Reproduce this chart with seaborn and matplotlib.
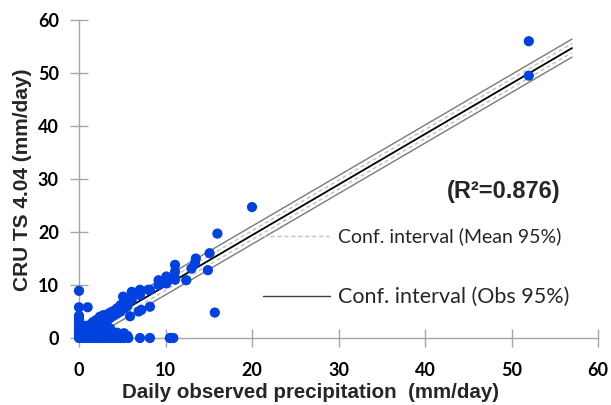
import numpy as np
import pandas as pd
import matplotlib
matplotlib.use("Agg")
import matplotlib.pyplot as plt
import seaborn as sns
from matplotlib.lines import Line2D

# ---- data ----
obs_precip = [
    52.0, 52.0, 20.0, 16.0, 15.1, 15.7, 13.5, 13.4, 13.0, 14.9,
    11.1, 11.1, 11.1, 11.1, 12.4, 10.1, 10.1, 9.2, 9.2, 8.2,
    8.0, 7.05, 7.05, 6.1, 6.1, 6.1, 5.1, 8.2, 6.9, 5.9,
    7.2, 4.2, 0.0, 0.0, 1.0, 5.3,
    5.7, 7.05, 8.2, 10.5, 10.9,
    0.0, 0.0, 0.0, 0.0, 0.0, 0.0, 0.0, 0.0,
    0.4, 0.4, 0.4, 0.4,
    0.8, 0.8, 0.8, 0.8,
    1.2, 1.2, 1.2, 1.2,
    1.6, 1.6, 1.6, 1.6, 1.6,
    2.0, 2.0, 2.0, 2.0, 2.0,
    2.4, 2.4, 2.4, 2.4, 2.4, 2.4,
    2.8, 2.8, 2.8, 2.8, 2.8, 2.8,
    3.2, 3.2, 3.2, 3.2, 3.2, 3.2,
    3.6, 3.6, 3.6, 3.6, 3.6,
    4.0, 4.0, 4.0, 4.0,
    4.4, 4.4, 4.4, 4.4,
    4.8, 4.8, 4.8, 4.8,
    5.2, 5.2, 5.2, 5.2,
    5.6, 5.6,
]
cru_precip = [
    56.0, 49.5, 24.7, 19.7, 16.0, 4.8, 15.0, 14.1, 13.1, 12.8,
    13.8, 12.5, 11.3, 11.0, 10.9, 11.6, 10.3, 10.9, 10.0, 9.1,
    9.1, 9.1, 8.1, 8.7, 8.0, 7.2, 7.8, 5.9, 5.0, 4.1,
    5.3, 5.0, 8.9, 5.8, 5.8, 5.8,
    0.0, 0.0, 0.0, 0.0, 0.0,
    0.0, 0.6, 1.2, 1.8, 2.4, 3.0, 3.6, 4.2,
    0.0, 0.7, 1.4, 2.0,
    0.0, 0.8, 1.6, 2.3,
    0.0, 0.7, 1.4, 2.4,
    0.0, 0.8, 1.6, 2.4, 3.0,
    0.0, 0.9, 1.8, 2.7, 3.4,
    0.0, 0.8, 1.6, 2.5, 3.4, 4.0,
    0.0, 0.9, 1.8, 2.7, 3.6, 4.3,
    0.0, 0.8, 1.6, 2.5, 3.4, 4.4,
    0.0, 0.9, 1.8, 3.8, 4.8,
    0.0, 0.6, 4.2, 5.1,
    0.0, 1.0, 4.6, 5.6,
    0.0, 0.6, 5.0, 6.2,
    0.0, 0.9, 5.6, 6.8,
    0.4, 6.0,
]
fit_x = [0.0, 57.0]
fit_y = [0.3, 54.7]
ci_mean_half = 0.85
ci_obs_half = 1.7
x_ticks = [0, 10, 20, 30, 40, 50, 60]
y_ticks = [0, 10, 20, 30, 40, 50, 60]
r2_label = "(R²=0.876)"
legend_labels = ["Conf. interval (Mean 95%)", "Conf. interval (Obs 95%)"]
x_label = "Daily observed precipitation  (mm/day)"
y_label = "CRU TS 4.04 (mm/day)"

# ---- style ----
sns.set_theme(style="white")
plt.rcParams['font.family'] = ['Lato', 'DejaVu Sans']

W, H = 611, 405
fig = plt.figure(figsize=(W / 100, H / 100), dpi=100)
ax = fig.add_axes([79 / W, 67 / H, 519 / W, 318 / H])

fit_df = pd.DataFrame({"x": fit_x, "fit": fit_y})
fit_df["mean_lo"] = fit_df["fit"] - ci_mean_half
fit_df["mean_hi"] = fit_df["fit"] + ci_mean_half
fit_df["obs_lo"] = fit_df["fit"] - ci_obs_half
fit_df["obs_hi"] = fit_df["fit"] + ci_obs_half

grey_obs = "#7a7a7a"
grey_mean = "#c0c0c0"
for col in ["obs_lo", "obs_hi"]:
    sns.lineplot(data=fit_df, x="x", y=col, color=grey_obs, lw=1.0, ax=ax, zorder=2)
for col in ["mean_lo", "mean_hi"]:
    sns.lineplot(data=fit_df, x="x", y=col, color=grey_mean, lw=1.0, ax=ax,
                 linestyle=(0, (3, 2)), zorder=2)
sns.lineplot(data=fit_df, x="x", y="fit", color="black", lw=1.3, ax=ax, zorder=3)

pts = pd.DataFrame({"obs": obs_precip, "cru": cru_precip})
sns.scatterplot(data=pts, x="obs", y="cru", s=54, color="#0041E0",
                edgecolor="none", linewidth=0, ax=ax, zorder=5, clip_on=False)

ax.set_xlim(0, 60)
ax.set_ylim(0, 60)
ax.set_xticks(x_ticks)
ax.set_yticks(y_ticks)
sns.despine(ax=ax)
spine_c = "#a6a6a6"
for s in ["left", "bottom"]:
    ax.spines[s].set_color(spine_c)
    ax.spines[s].set_linewidth(1.0)
ax.tick_params(axis="both", which="major", bottom=True, left=True,
               direction="inout", length=13, width=1.0, color=spine_c,
               labelsize=13, labelcolor="black")
ax.tick_params(axis="x", pad=11)
ax.tick_params(axis="y", pad=8)
for lab in ax.get_xticklabels() + ax.get_yticklabels():
    lab.set_fontweight("bold")

ax.set_xlabel(x_label, fontsize=14.8, fontweight="bold",
              family=["Liberation Sans", "DejaVu Sans"])
ax.set_ylabel(y_label, fontsize=15, fontweight="bold",
              family=["Liberation Sans", "DejaVu Sans"])
ax.xaxis.set_label_coords(0.446, -0.14)
ax.yaxis.set_label_coords(-0.09, 0.497)

ax.text(0.819, 0.46, r2_label, transform=ax.transAxes, ha="center", va="center",
        fontsize=17, fontweight="bold", family=["Liberation Sans", "DejaVu Sans"])

h_mean = Line2D([], [], color=grey_mean, lw=1.0, linestyle=(0, (3, 2)))
h_obs = Line2D([], [], color="#404040", lw=1.0)
leg1 = ax.legend([h_mean], [legend_labels[0]], loc="center left",
                 bbox_to_anchor=(0.3545, 0.3186), frameon=False, fontsize=14,
                 handlelength=3.4, handletextpad=0.45, borderpad=0, borderaxespad=0)
ax.add_artist(leg1)
ax.legend([h_obs], [legend_labels[1]], loc="center left",
          bbox_to_anchor=(0.3545, 0.128), frameon=False, fontsize=15.5,
          handlelength=3.1, handletextpad=0.4, borderpad=0, borderaxespad=0)

fig.savefig("out.png", dpi=100)
